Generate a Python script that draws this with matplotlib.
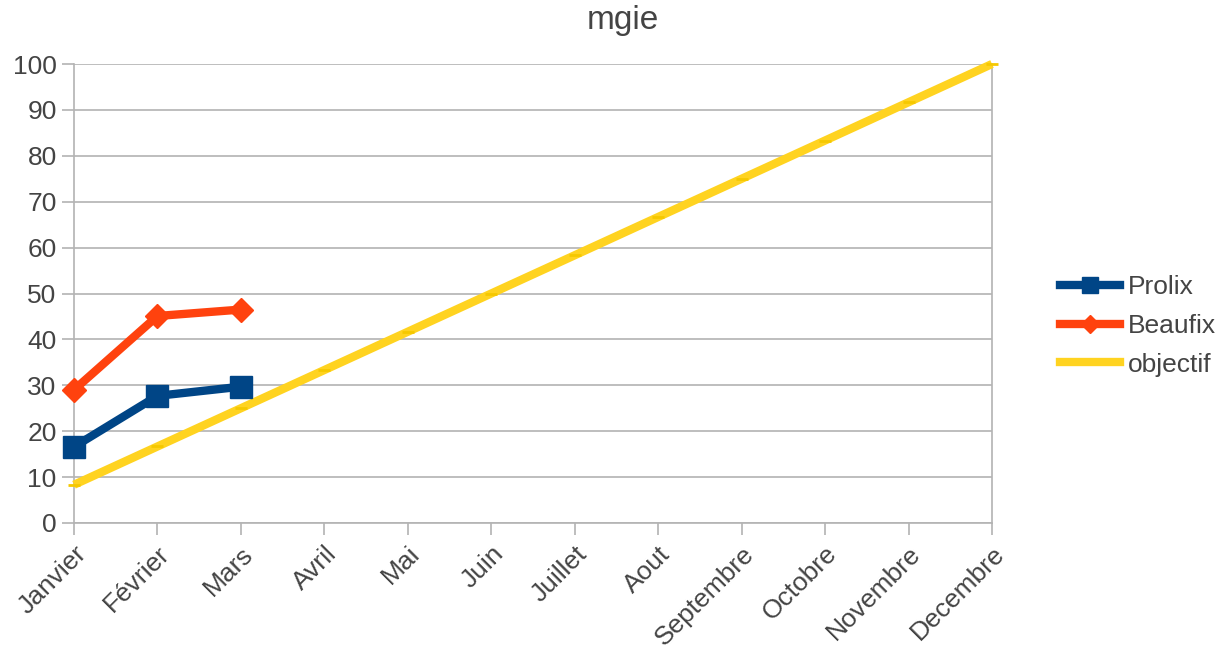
import matplotlib
matplotlib.use("Agg")
import matplotlib.pyplot as plt
from matplotlib.lines import Line2D

months = ["Janvier", "Février", "Mars", "Avril", "Mai", "Juin", "Juillet",
          "Aout", "Septembre", "Octobre", "Novembre", "Decembre"]
prolix = [16.6, 27.7, 29.7]
beaufix = [29.0, 45.1, 46.5]
objectif = [8.33, 16.67, 25.0, 33.33, 41.67, 50.0, 58.33, 66.67, 75.0, 83.33, 91.67, 100.0]
yticks = list(range(0, 101, 10))

plt.rcParams['font.family'] = ['Liberation Sans', 'DejaVu Sans']
txt = '#444444'
grid = '#b3b3b3'

fig = plt.figure(figsize=(12.19, 6.45), dpi=100)
ax = fig.add_axes([74/1219, 122/645, (992-74)/1219, (523-64)/645])

x = list(range(len(months)))
ax.plot(x, objectif, color='#ffd320', lw=6, marker='_', ms=8, mew=2, mec='#f5c800',
        solid_capstyle='butt', zorder=3, clip_on=False)
ax.plot(x[:len(prolix)], prolix, color='#004586', lw=6, marker='s', ms=16,
        zorder=4, clip_on=False)
ax.plot(x[:len(beaufix)], beaufix, color='#ff420e', lw=6, marker='D', ms=12,
        zorder=4, clip_on=False)

ax.set_xlim(0, 11)
ax.set_ylim(0, 100)
ax.set_yticks(yticks)
ax.set_xticks(x)
ax.set_xticklabels(months, rotation=45, ha='right', rotation_mode='anchor')
ax.tick_params(axis='both', colors=grid, labelcolor=txt, labelsize=19, length=8.5, width=1.2)
ax.tick_params(axis='x', pad=5)
ax.tick_params(axis='y', pad=4)
ax.grid(axis='y', color=grid, lw=1.2)
ax.set_axisbelow(True)
for s in ['left', 'bottom', 'right']:
    ax.spines[s].set_color(grid)
    ax.spines[s].set_linewidth(1.2)
ax.spines['top'].set_visible(False)

fig.text(623/1219, 1 - 20/645, 'mgie', fontsize=24, color=txt, ha='center', va='center')

handles = [
    Line2D([], [], color='#004586', lw=6, marker='s', ms=12),
    Line2D([], [], color='#ff420e', lw=6, marker='D', ms=9),
    Line2D([], [], color='#ffd320', lw=6),
]
labels = ['Prolix', 'Beaufix', 'objectif']
fig.legend(handles, labels, loc='center left',
           bbox_to_anchor=(1060/1219, 1 - 326/645), frameon=False, fontsize=19,
           labelcolor=txt, handlelength=2.27, handletextpad=0.3, labelspacing=0.55,
           borderpad=0, borderaxespad=0)

fig.savefig('out.png', dpi=100)
